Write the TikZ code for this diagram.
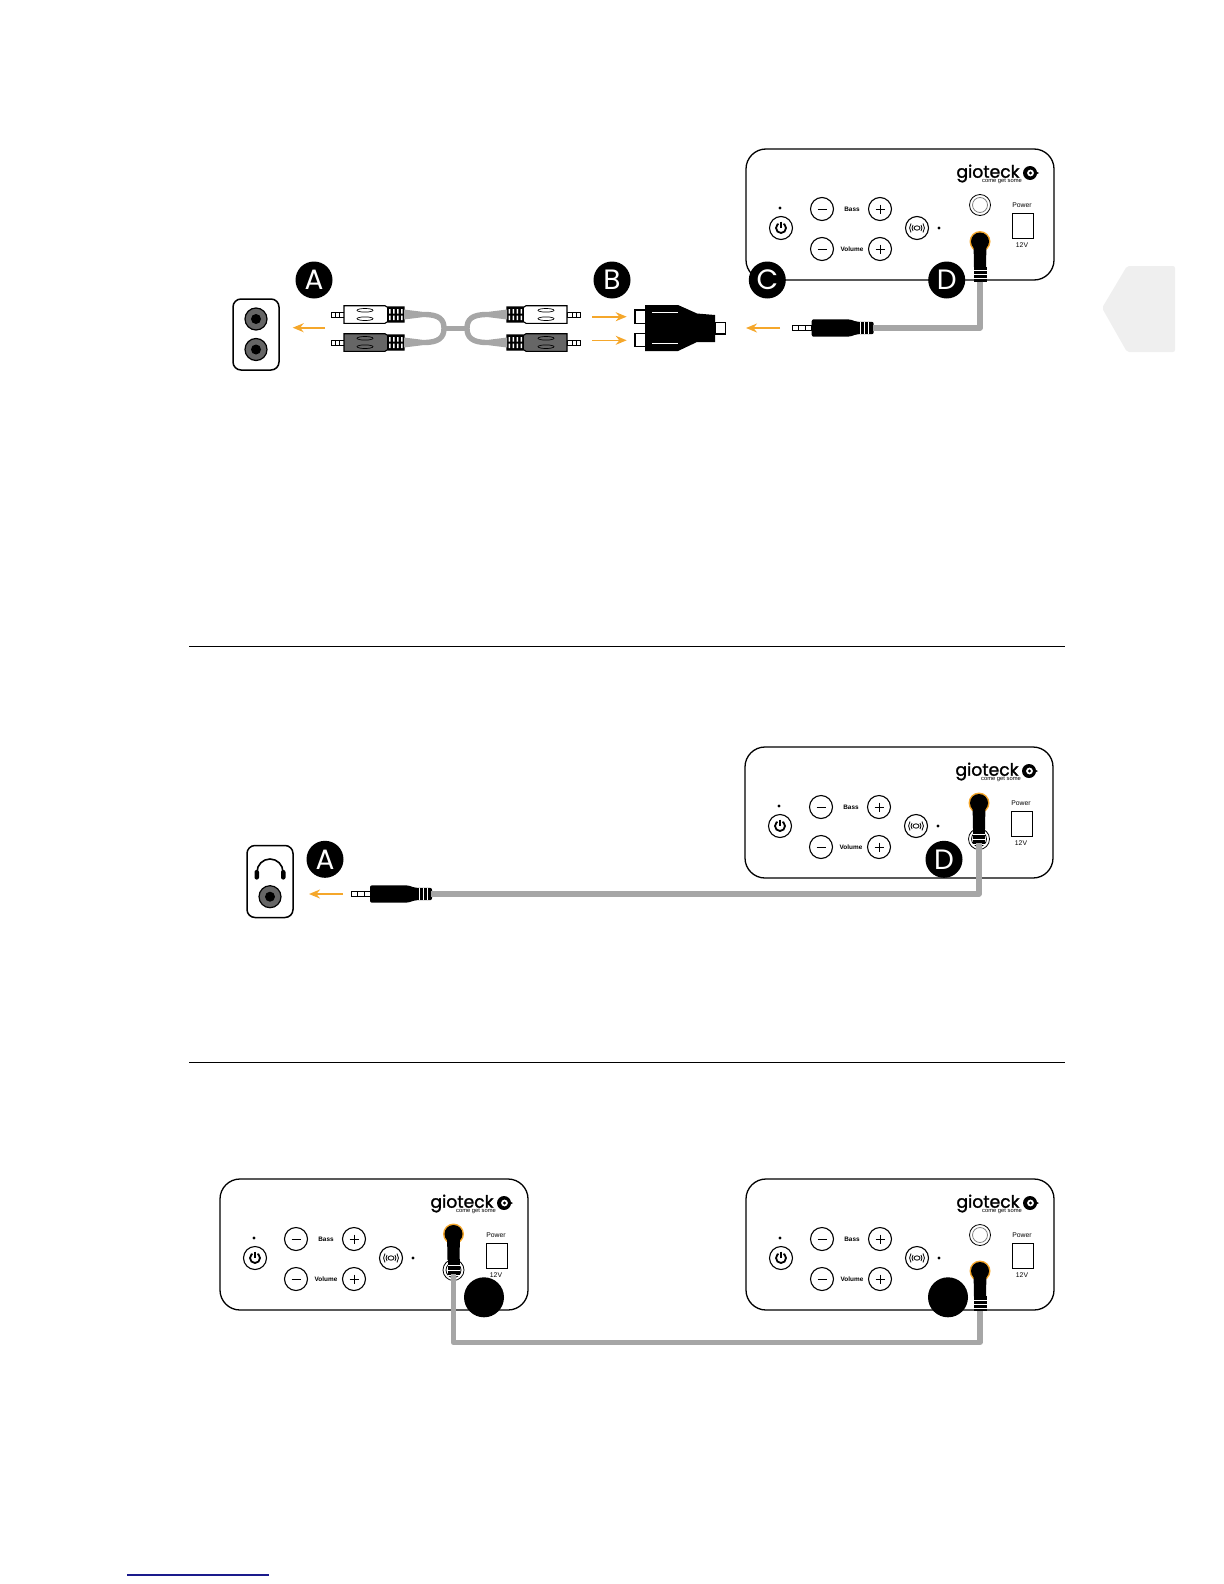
\documentclass[tikz,border=0pt]{standalone}
\usepackage{fontspec}
\usepackage{tikz}
\usetikzlibrary{calc,arrows.meta}
\usetikzlibrary{positioning}
\setmainfont{Liberation Sans}
\newfontfamily\logofont{Poppins}
\newfontfamily\brandfont[FakeBold=1.5]{Poppins}
\definecolor{flowcol}{HTML}{F5A72B}
\definecolor{cablecol}{HTML}{A6A6A6}
\definecolor{tabcol}{HTML}{EFEFEF}
\definecolor{darkplug}{HTML}{666666}
\definecolor{linkcol}{HTML}{1A1A8C}
\tikzset{
  badge/.style={circle,fill=black,text=white,minimum size=18.5pt,inner sep=0pt,font=\logofont\fontsize{14}{14}\selectfont},
  blankbadge/.style={circle,fill=black,minimum size=20pt,inner sep=0pt},
  padbtn/.style={draw,circle,fill=white,line width=.55pt,minimum size=11.5pt,inner sep=0pt},
  powerbox/.style={draw,line width=.5pt,minimum width=10.5pt,minimum height=12.5pt,inner sep=0pt},
  panelbox/.style={draw,rounded corners=10pt,line width=.65pt,minimum width=154pt,minimum height=65.5pt,anchor=north west,inner sep=0pt,outer sep=0pt},
  padtext/.style={inner sep=0pt,font=\bfseries\fontsize{3.2}{3.2}\selectfont},
  smalltext/.style={inner sep=0pt,font=\fontsize{3.4}{3.4}\selectfont},
  dotmark/.style={circle,fill=black,minimum size=1.7pt,inner sep=0pt},
  sockbox/.style={draw,rounded corners=4pt,line width=.75pt,minimum width=23pt,inner sep=0pt},
  socket/.style={draw,circle,fill=darkplug,line width=.6pt,minimum size=11pt,inner sep=0pt},
  sockhole/.style={circle,fill=black,minimum size=5pt,inner sep=0pt},
  cable/.style={draw=cablecol,line width=2.7pt,line join=round},
  flow/.style={draw=flowcol,line width=.8pt,-{Stealth[length=5.5pt,width=4.5pt]}},
  rule/.style={draw,line width=.5pt},
  panel/.pic={
    \node[panelbox](-box) at (0,0){};
    \node[dotmark](-pdot) at (34,59){};
    \node[padbtn](-power) at (35,79){};
    \draw[line width=.9pt] (35,79) circle (5);
    \fill[white] (35,79) -- (31,72) -- (39,72) -- cycle;
    \draw[line width=.9pt] (35,72.5) -- (35,78.5);
    \node[padbtn](-bminus) at (76,60){};
    \node[padbtn](-bplus) at (134,60){};
    \node[padbtn](-vminus) at (76,100){};
    \node[padbtn](-vplus) at (134,100){};
    \draw[line width=.5pt] (71.5,60) -- (80.5,60) (71.5,100) -- (80.5,100);
    \draw[line width=.5pt] (129.5,60) -- (138.5,60) (134,55.5) -- (134,64.5) (129.5,100) -- (138.5,100) (134,95.5) -- (134,104.5);
    \node[padtext](-bass) at (106,60){Bass};
    \node[padtext](-volume) at (106,100){Volume};
    \node[padbtn](-speaker) at (171,79){};
    \draw[line width=.4pt] (171,79) ellipse (3 and 2.2);
    \draw[line width=.4pt] (175,76) arc[start angle=-35,end angle=35,radius=5.2];
    \draw[line width=.4pt] (177,74.5) arc[start angle=-35,end angle=35,radius=7.8];
    \draw[line width=.4pt] (167,76) arc[start angle=215,end angle=145,radius=5.2];
    \draw[line width=.4pt] (165,74.5) arc[start angle=215,end angle=145,radius=7.8];
    \node[dotmark](-sdot) at (193,79){};
    \node[powerbox](-socket) at (276.5,76.5){};
    \node[smalltext](-powertext) at (276,56){Power};
    \node[smalltext](-volts) at (276,96){12V};
    \node[inner sep=0pt,font=\brandfont\fontsize{8.6}{8.6}\selectfont](-logo) at (242,24.5){gioteck};
    \node[inner sep=0pt,font=\fontsize{2.9}{2.9}\selectfont](-slogan) at (256,32){come get some};
    \node[circle,fill=black,minimum size=7pt,inner sep=0pt](-mark) at (284,24){};
    \node[circle,fill=white,minimum size=3.4pt,inner sep=0pt](-markin) at (284.5,24){};
    \node[circle,fill=black,minimum size=1.6pt,inner sep=0pt](-markdot) at (284.5,24){};
    \fill[black] (290,22.5) -- (293,24) -- (290,25.5) -- cycle;
  },
  ring/.pic={
    \node[draw,circle,line width=.4pt,minimum size=10.5pt,inner sep=0pt](-outer) at (0,0){};
    \node[draw=gray,circle,line width=.4pt,minimum size=7.5pt,inner sep=0pt](-inner) at (0,0){};
  },
  jack/.pic={
    \node[circle,fill=flowcol,minimum size=10.5pt,inner sep=0pt](-collar) at (0,0){};
    \node[circle,fill=black,minimum size=9pt,inner sep=0pt](-hole) at (0,0){};
    \fill (-6.5,0) -- (6.5,0) -- (6,26) -- (-6,26) -- cycle;
    \fill (-6.5,25) rectangle (6.5,40);
    \draw[white,line width=.5pt] (-7,29) -- (7,29) (-7,33) -- (7,33) (-7,37) -- (7,37);
    \coordinate (-tail) at (0,40);
  },
  seatjack/.pic={
    \node[draw,circle,fill=white,line width=.4pt,minimum size=10.5pt,inner sep=0pt](-outer) at (0,36){};
    \node[draw,circle,line width=.4pt,minimum size=7.5pt,inner sep=0pt](-inner) at (0,36){};
    \node[circle,fill=flowcol,minimum size=10.5pt,inner sep=0pt](-collar) at (0,0){};
    \node[circle,fill=black,minimum size=9pt,inner sep=0pt](-hole) at (0,0){};
    \fill (-6.5,0) -- (6.5,0) -- (6,26) -- (-6,26) -- cycle;
    \fill (-6,25) rectangle (6,42);
    \draw[white,line width=.5pt] (-6,31) -- (6,31) (-6,36) -- (6,36) (-6,41) -- (6,41);
    \coordinate (-tail) at (0,40);
  },
  miniplug/.pic={
    \draw[line width=.35pt] (-19,-2.7) rectangle (0,2.7) (-13,-2.7) -- (-13,2.7) (-6,-2.7) -- (-6,2.7);
    \fill[rounded corners=1pt] (0,-8.7) -- (38,-8.7) -- (45,-6.2) -- (62,-6.2) -- (62,6.2) -- (45,6.2) -- (38,8.7) -- (0,8.7) -- cycle;
    \draw[white,line width=.45pt] (49,-6.2) -- (49,6.2) (53,-6.2) -- (53,6.2) (57,-6.2) -- (57,6.2);
    \coordinate (-tail) at (61,0);
  },
  yplug/.pic={
    \draw[line width=.35pt] (-13,-2.5) rectangle (0,2.5) (-9,-2.5) -- (-9,2.5) (-5,-2.5) -- (-5,2.5);
    \draw[pic actions,line width=.55pt] (0,-8.8) -- (41,-8.8) -- (43,-7.5) -- (60,-7.5) -- (60,7.5) -- (43,7.5) -- (41,8.8) -- (0,8.8) -- cycle;
    \fill[black] (43,-7.5) rectangle (60,7.5);
    \fill[white] (45,-5.5) rectangle (46.5,-1) (49,-5.5) rectangle (50.5,-1) (53,-5.5) rectangle (54.5,-1) (57,-5.5) rectangle (58.5,-1);
    \fill[white] (45,1) rectangle (46.5,5.5) (49,1) rectangle (50.5,5.5) (53,1) rectangle (54.5,5.5) (57,1) rectangle (58.5,5.5);
    \draw[line width=.35pt] (21,-4.2) ellipse (8 and 1.8) (21,4.2) ellipse (8 and 1.8);
    \fill[cablecol] (60,-5) -- (60,5) -- (80,2.5) -- (80,-2.5) -- cycle;
    \coordinate (-tail) at (80,0);
  }
}
\begin{document}
\begin{tikzpicture}[x=.5pt,y=-.5pt]
\useasboundingbox (0,0) rectangle (1224,1584);
\fill[tabcol,rounded corners=1pt] (1127,266) -- (1175,266) -- (1175,352) -- (1127,352) -- (1102,308) -- cycle;
% first hookup
\pic (one) at (746,149) {panel};
\pic (onering) at (980,205) {ring};
\pic (onejack) at (980,241.5) {jack};
\node[sockbox,minimum height=35.5pt](boxa) at (256,334.5){};
\node[socket](socka) at (256,319){};
\node[sockhole](holea) at (256,319){};
\node[socket](sockb) at (256,349.5){};
\node[sockhole](holeb) at (256,349.5){};
\pic (whitea) at (344,314.5) [fill=white] {yplug};
\pic (greya) at (344,342.5) [fill=darkplug] {yplug};
\pic (whiteb) at (567,314.5) [xscale=-1,fill=white] {yplug};
\pic (greyb) at (567,342.5) [xscale=-1,fill=darkplug] {yplug};
\coordinate (splitl) at (444,328.3);
\coordinate (splitr) at (467,328.3);
\draw[cable] (whitea-tail) .. controls +(15,0) and +(0,-9) .. (splitl) .. controls +(0,9) and +(15,0) .. (greya-tail);
\draw[cable] (whiteb-tail) .. controls +(-15,0) and +(0,-9) .. (splitr) .. controls +(0,9) and +(-15,0) .. (greyb-tail);
\draw[cable] (splitl) -- (splitr);
\fill (645,305) -- (678,305) -- (697,313.5) -- (715,315) -- (715,342) -- (697,342) -- (678,351) -- (645,351) -- cycle;
\draw[line width=.75pt] (635,310) rectangle (645.7,323.3) (635,333.3) rectangle (645.7,346.7) (715,322.7) rectangle (725.7,334);
\draw[white,line width=.5pt] (652,312.3) -- (678,312.3) (652,343.3) -- (678,343.3);
\pic (cplug) at (811.7,328) {miniplug};
\draw[cable] (onejack-tail) |- (cplug-tail);
\node[badge](la) at (314,280){A};
\node[badge](lb) at (612,280){B};
\node[badge](lc) at (767.3,280){C};
\node[badge](ld) at (946.7,280){D};
\coordinate (fa) at (325,327.7);
\coordinate (ta) at (292.7,327.7);
\draw[flow] (fa) -- (ta);
\coordinate (fb) at (592,316.7);
\coordinate (tb) at (626.7,316.7);
\draw[flow] (fb) -- (tb);
\coordinate (fc) at (592,340.3);
\coordinate (tc) at (626.7,340.3);
\draw[flow] (fc) -- (tc);
\coordinate (fd) at (780,328);
\coordinate (td) at (746,328);
\draw[flow] (fd) -- (td);
\coordinate (rulea) at (189,646);
\coordinate (ruleb) at (1065,646);
\draw[rule] (rulea) -- (ruleb);
% second hookup
\pic (two) at (745,747) {panel};
\pic (twojack) at (979,803) {seatjack};
\node[sockbox,minimum height=36pt](boxc) at (270,881.5){};
\draw[line width=.8pt] (257,872) arc[start angle=180,end angle=360,radius=13];
\fill[rounded corners=1pt] (254.5,870) rectangle (259,879.5) (281,870) rectangle (285.5,879.5);
\node[socket](sockc) at (270,896.7){};
\node[sockhole](holec) at (270,896.7){};
\pic (aplug) at (370,894) {miniplug};
\draw[cable] (twojack-tail) |- (aplug-tail);
\node[badge](le) at (325,859.3){A};
\node[badge](lf) at (944,859.3){D};
\coordinate (fe) at (343,894);
\coordinate (te) at (309,894);
\draw[flow] (fe) -- (te);
\coordinate (rulec) at (189,1062);
\coordinate (ruled) at (1065,1062);
\draw[rule] (rulec) -- (ruled);
% third hookup
\pic (three) at (220,1179) {panel};
\pic (threejack) at (453.5,1234) {seatjack};
\pic (four) at (746,1179) {panel};
\pic (fourring) at (980,1235) {ring};
\pic (fourjack) at (980,1271) {jack};
\coordinate (bend) at (453.5,1342.5);
\draw[cable] (threejack-tail) -- (bend) -| (fourjack-tail);
\node[blankbadge](lg) at (484,1297.3){};
\node[blankbadge](lh) at (948,1297.3){};
\coordinate (linka) at (127,1575);
\coordinate (linkb) at (269,1575);
\draw[linkcol,line width=.6pt] (linka) -- (linkb);
\end{tikzpicture}
\end{document}
